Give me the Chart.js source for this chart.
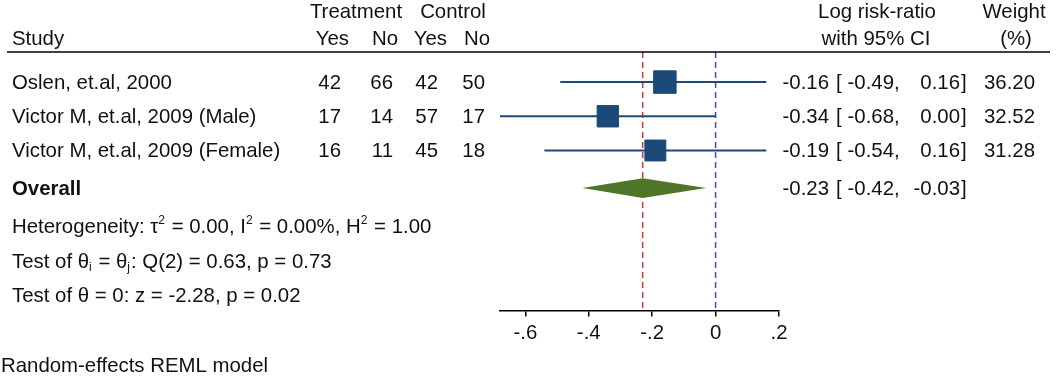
<!DOCTYPE html>
<html lang="en">
<head>
  <meta charset="UTF-8" />
  <title>Forest plot</title>
  <script src="https://cdn.jsdelivr.net/npm/chart.js"></script>
  <style>
    body { margin: 0; background: #fff; }
    canvas { display: block; }
  </style>
</head>
<body>
<canvas id="forest" width="1056" height="376"></canvas>
<script>
  // datos
  const studies = ['Oslen, et.al, 2000', 'Victor M, et.al, 2009 (Male)', 'Victor M, et.al, 2009 (Female)'];
  const treatYes = [42, 17, 16];
  const treatNo = [66, 14, 11];
  const ctrlYes = [42, 57, 45];
  const ctrlNo = [50, 17, 18];
  const logRR = [-0.16, -0.34, -0.19];
  const ciLow = [-0.49, -0.68, -0.54];
  const ciHigh = [0.16, 0.00, 0.16];
  const weights = [36.20, 32.52, 31.28];
  const overall = [-0.23, -0.42, -0.03]; // est, low, high
  const rows = [1, 2, 3];
  const overallRow = 4.1;
  const xTicks = [-0.6, -0.4, -0.2, 0, 0.2];
  const xTickLabels = ['-.6', '-.4', '-.2', '0', '.2'];

  const FONT = '"Liberation Sans", Arial, sans-serif';
  const FS = 20.4;
  const azul = '#1c4a78';
  const verde = '#4f7628';
  const yMin = 0.12, yMax = 7.68;

  const datasets = [];
  // cuadrados
  datasets.push({
    data: logRR.map((v, i) => ({ x: v, y: rows[i] })),
    pointStyle: 'rect',
    pointRadius: weights.map(w => 3.74 * Math.sqrt(w) / Math.SQRT2),
    backgroundColor: azul,
    borderColor: azul,
    borderWidth: 1,
    order: 0
  });
  // intervalos
  logRR.forEach((v, i) => {
    datasets.push({
      data: [{ x: ciLow[i], y: rows[i] }, { x: ciHigh[i], y: rows[i] }],
      showLine: true,
      pointRadius: 0,
      borderColor: azul,
      borderWidth: 2,
      order: 1
    });
  });
  // diamante
  const h = 0.29;
  datasets.push({
    data: [
      { x: overall[1], y: overallRow },
      { x: overall[0], y: overallRow - h },
      { x: overall[2], y: overallRow },
      { x: overall[0], y: overallRow + h },
      { x: overall[1], y: overallRow }
    ],
    showLine: true,
    fill: 'shape',
    pointRadius: 0,
    borderWidth: 0,
    borderColor: verde,
    backgroundColor: verde,
    tension: 0,
    order: 2
  });
  // lineas discontinuas
  datasets.push({
    data: [{ x: overall[0], y: yMin }, { x: overall[0], y: yMax }],
    showLine: true, pointRadius: 0, borderColor: '#d8323a', borderWidth: 1.5,
    borderDash: [6, 4], order: 3
  });
  datasets.push({
    data: [{ x: 0, y: yMin }, { x: 0, y: yMax }],
    showLine: true, pointRadius: 0, borderColor: '#4646d0', borderWidth: 1.5,
    borderDash: [6, 4], order: 3
  });

  function rich(ctx, parts, x, y) {
    let cx = x;
    parts.forEach(p => {
      if (typeof p === 'string') {
        ctx.font = `${FS}px ${FONT}`;
        ctx.fillText(p, cx, y);
        cx += ctx.measureText(p).width;
      } else {
        ctx.font = `12px ${FONT}`;
        ctx.fillText(p.t, cx, y + (p.sup ? -9 : 3));
        cx += ctx.measureText(p.t).width + 1;
      }
    });
  }

  const tablaPlugin = {
    id: 'tabla',
    afterDraw(chart) {
      const ctx = chart.ctx;
      const ys = chart.scales.y;
      ctx.save();
      ctx.fillStyle = '#111';
      ctx.textBaseline = 'alphabetic';

      // linea de encabezado
      ctx.strokeStyle = '#000';
      ctx.lineWidth = 1.6;
      ctx.beginPath();
      ctx.moveTo(7, chart.chartArea.top);
      ctx.lineTo(1050, chart.chartArea.top);
      ctx.stroke();

      ctx.font = `${FS}px ${FONT}`;
      ctx.textAlign = 'center';
      ctx.fillText('Treatment', 356, 18);
      ctx.fillText('Control', 453, 18);
      ctx.fillText('Log risk-ratio', 877, 18);
      ctx.fillText('with 95% CI', 876, 45);
      ctx.fillText('Weight', 1014, 18);
      ctx.fillText('(%)', 1016, 45);
      ctx.textAlign = 'left';
      ctx.fillText('Study', 12, 45);
      ctx.textAlign = 'right';
      ctx.fillText('Yes', 349, 45);
      ctx.fillText('No', 398, 45);
      ctx.fillText('Yes', 447, 45);
      ctx.fillText('No', 490, 45);

      const ci = (y, e, lo, hi) => {
        ctx.textAlign = 'right';
        ctx.fillText(e.toFixed(2), 829, y);
        ctx.textAlign = 'left';
        ctx.fillText('[', 836, y);
        ctx.textAlign = 'right';
        ctx.fillText(lo.toFixed(2), 894, y);
        ctx.textAlign = 'left';
        ctx.fillText(',', 894, y);
        ctx.textAlign = 'right';
        ctx.fillText(hi.toFixed(2), 960, y);
        ctx.textAlign = 'left';
        ctx.fillText(']', 961, y);
      };

      studies.forEach((s, i) => {
        const y = ys.getPixelForValue(rows[i]) + 7;
        ctx.textAlign = 'left';
        ctx.fillText(s, 12, y);
        ctx.textAlign = 'right';
        ctx.fillText(String(treatYes[i]), 341, y);
        ctx.fillText(String(treatNo[i]), 393, y);
        ctx.fillText(String(ctrlYes[i]), 438, y);
        ctx.fillText(String(ctrlNo[i]), 485, y);
        ci(y, logRR[i], ciLow[i], ciHigh[i]);
        ctx.textAlign = 'right';
        ctx.fillText(weights[i].toFixed(2), 1035, y);
      });

      const yo = ys.getPixelForValue(overallRow) + 7;
      ctx.textAlign = 'left';
      ctx.font = `bold ${FS}px ${FONT}`;
      ctx.fillText('Overall', 12, yo);
      ctx.font = `${FS}px ${FONT}`;
      ci(yo, overall[0], overall[1], overall[2]);

      ctx.textAlign = 'left';
      rich(ctx, ['Heterogeneity: τ', { t: '2', sup: true }, ' = 0.00, I', { t: '2', sup: true },
        ' = 0.00%, H', { t: '2', sup: true }, ' = 1.00'], 12, 233);
      rich(ctx, ['Test of θ', { t: 'i' }, ' = θ', { t: 'j' }, ': Q(2) = 0.63, p = 0.73'], 12, 268);
      rich(ctx, ['Test of θ = 0: z = -2.28, p = 0.02'], 12, 302);
      rich(ctx, ['Random-effects REML model'], 1, 372);
      ctx.restore();
    }
  };

  new Chart(document.getElementById('forest').getContext('2d'), {
    type: 'scatter',
    data: { datasets },
    options: {
      responsive: false,
      animation: false,
      layout: { padding: { left: 500, right: 277, top: 52, bottom: 25 } },
      plugins: { legend: { display: false }, tooltip: { enabled: false } },
      scales: {
        x: {
          type: 'linear',
          min: Math.min(...ciLow),
          max: Math.max(...xTicks),
          afterBuildTicks: s => { s.ticks = xTicks.map(v => ({ value: v })); },
          ticks: {
            callback: (v, i) => xTickLabels[i],
            font: { size: FS, family: FONT },
            color: '#111',
            padding: 5,
            maxRotation: 0,
            autoSkip: false
          },
          grid: { drawOnChartArea: false, tickLength: 6, color: '#000', lineWidth: 1.5 },
          border: { color: '#000', width: 1.5 }
        },
        y: { type: 'linear', reverse: true, min: yMin, max: yMax, display: false }
      }
    },
    plugins: [tablaPlugin]
  });
</script>
</body>
</html>
